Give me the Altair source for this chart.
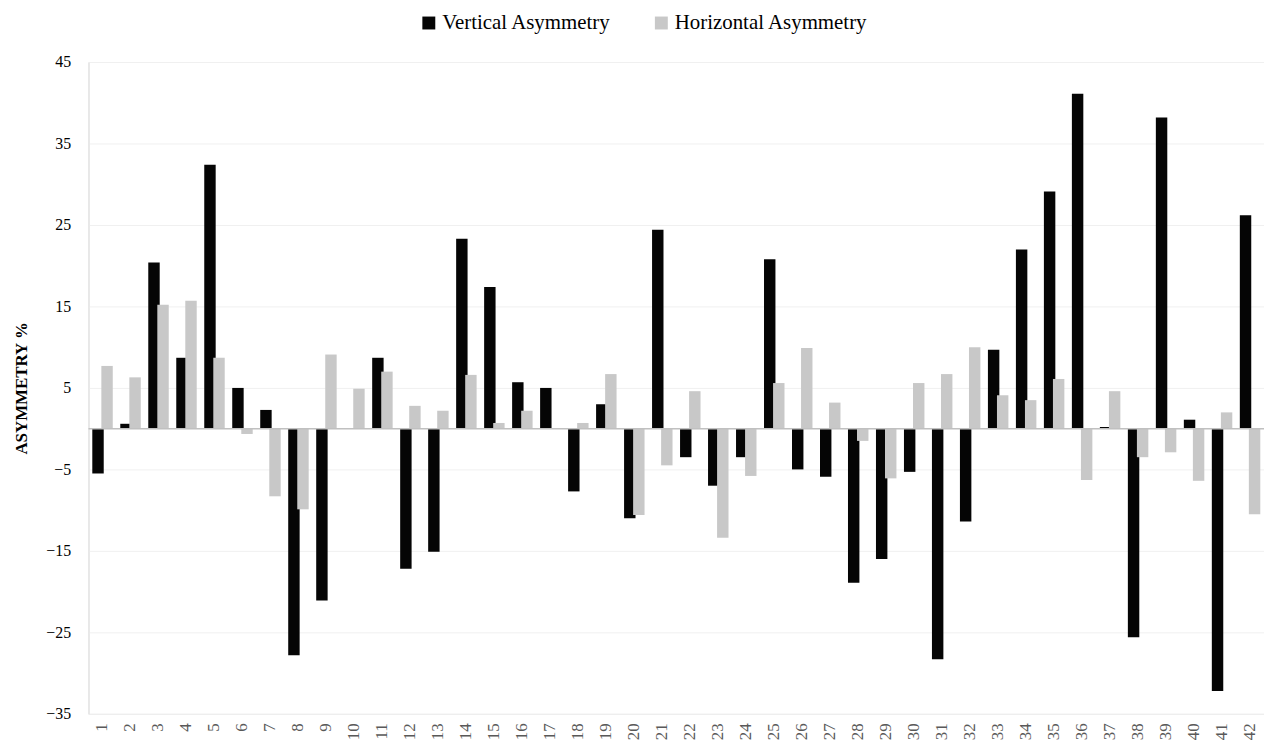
import altair as alt
import pandas as pd

categories = list(range(1, 43))
vertical = [-5.5, 0.6, 20.4, 8.7, 32.4, 5.0, 2.3, -27.8, -21.1, 0.0,
            8.7, -17.2, -15.1, 23.3, 17.4, 5.7, 5.0, -7.7, 3.0, -11.0,
            24.4, -3.5, -7.0, -3.5, 20.8, -5.0, -5.9, -18.9, -16.0, -5.3,
            -28.3, -11.4, 9.7, 22.0, 29.1, 41.1, 0.2, -25.6, 38.2, 1.1,
            -32.2, 26.2]
horizontal = [7.7, 6.3, 15.2, 15.7, 8.7, -0.65, -8.3, -9.9, 9.1, 4.9,
              7.0, 2.8, 2.2, 6.6, 0.7, 2.2, 0.0, 0.7, 6.7, -10.6,
              -4.5, 4.6, -13.4, -5.8, 5.6, 9.9, 3.2, -1.5, -6.1, 5.6,
              6.7, 10.0, 4.1, 3.5, 6.1, -6.3, 4.6, -3.5, -2.9, -6.4,
              2.0, -10.5]
series_names = ["Vertical Asymmetry", "Horizontal Asymmetry"]
y_ticks = [-35, -25, -15, -5, 5, 15, 25, 35, 45]

rows = []
for c, v, h in zip(categories, vertical, horizontal):
    rows.append({"cat": c, "series": series_names[0], "value": v})
    rows.append({"cat": c, "series": series_names[1], "value": h})
df = pd.DataFrame(rows)

FONT = "Liberation Serif"

x_enc = alt.X("cat:O", sort=categories, title=None,
              scale=alt.Scale(paddingInner=0, paddingOuter=0),
              axis=alt.Axis(labelAngle=-90, labelFontSize=17, labelColor="#595959",
                            labelFont=FONT, ticks=False, domain=False, labelPadding=9,
                            grid=False))
y_enc = alt.Y("value:Q", title="ASYMMETRY %",
              scale=alt.Scale(domain=[-35, 45], nice=False, zero=False),
              axis=alt.Axis(values=y_ticks, labelFontSize=16, labelColor="#000000",
                            labelFont=FONT, ticks=False, domain=True, domainColor="#e4e4e4",
                            labelPadding=18, grid=True, gridColor="#f0f0f0",
                            titleFont=FONT, titleFontSize=17, titleFontWeight="bold",
                            titleColor="#000000", titlePadding=15))
color_enc = alt.Color("series:N",
                      scale=alt.Scale(domain=series_names, range=["#050505", "#c8c8c8"]),
                      legend=alt.Legend(title=None, orient="none", direction="horizontal",
                                        legendX=332, legendY=-50, symbolType="square",
                                        symbolSize=169, symbolStrokeWidth=0,
                                        labelFont=FONT, labelFontSize=21, labelLimit=0,
                                        labelColor="#000000", columnPadding=40,
                                        labelOffset=3))

base = alt.Chart(df)

black = base.transform_filter(alt.datum.series == series_names[0]).mark_bar(
    width=11.5, xOffset=-4.5).encode(x=x_enc, y=y_enc, color=color_enc)
gray = base.transform_filter(alt.datum.series == series_names[1]).mark_bar(
    width=11.5, xOffset=4.6).encode(x=x_enc, y=y_enc, color=color_enc)
zero = alt.Chart(pd.DataFrame({"z": [0]})).mark_rule(color="#c0c0c0", strokeWidth=1.5).encode(
    y=alt.Y("z:Q"))

chart = alt.layer(black, gray, zero).properties(
    width=1183, height=656,
    autosize=alt.AutoSizeParams(type="none"),
    padding={"left": 81, "top": 52, "right": 0, "bottom": 30},
).configure_view(stroke=None).configure(background="white")

chart.save("out.html", embed_options={"renderer": "svg", "actions": False})
